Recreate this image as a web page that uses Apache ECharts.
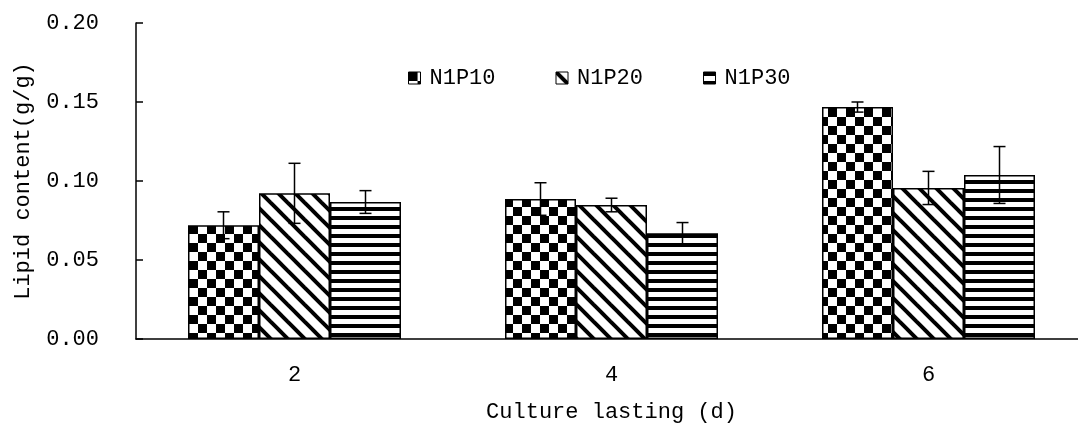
<!DOCTYPE html>
<html>
<head>
<meta charset="utf-8">
<script src="https://cdn.jsdelivr.net/npm/echarts@6/dist/echarts.min.js"></script>
<style>html,body{margin:0;padding:0;background:#fff;}#c{width:1078px;height:426px;}</style>
</head>
<body>
<div id="c"></div>
<script>
const categories = ['2', '4', '6'];
const seriesNames = ['N1P10', 'N1P20', 'N1P30'];
const n1p10 = [0.072, 0.0886, 0.1468];
const n1p20 = [0.0922, 0.0848, 0.0956];
const n1p30 = [0.0867, 0.0670, 0.1038];
const n1p10Err = [0.0085, 0.0103, 0.0032];
const n1p20Err = [0.0190, 0.0043, 0.0105];
const n1p30Err = [0.0072, 0.0067, 0.0180];

function makeChecker() {
  const c = document.createElement('canvas'); c.width = 18; c.height = 18;
  const g = c.getContext('2d');
  g.fillStyle = '#fff'; g.fillRect(0, 0, 18, 18);
  g.fillStyle = '#000'; g.fillRect(0, 0, 9, 9); g.fillRect(9, 9, 9, 9);
  return c;
}
function makeDiag() {
  const s = 17;
  const c = document.createElement('canvas'); c.width = s; c.height = s;
  const g = c.getContext('2d');
  g.fillStyle = '#fff'; g.fillRect(0, 0, s, s);
  g.strokeStyle = '#000'; g.lineWidth = 4;
  for (let k = -1; k <= 1; k++) {
    g.beginPath(); g.moveTo(k * s - 2, -2); g.lineTo(k * s + s + 2, s + 2); g.stroke();
  }
  return c;
}
function makeHoriz() {
  const c = document.createElement('canvas'); c.width = 9; c.height = 9;
  const g = c.getContext('2d');
  g.fillStyle = '#fff'; g.fillRect(0, 0, 9, 9);
  g.fillStyle = '#000'; g.fillRect(0, 0, 9, 4);
  return c;
}
const patterns = [makeChecker(), makeDiag(), makeHoriz()];
const values = [n1p10, n1p20, n1p30];
const errs = [n1p10Err, n1p20Err, n1p30Err];
const BAR_W = 71;
const FONT = 'Liberation Mono';

const series = [];
seriesNames.forEach((name, i) => {
  series.push({
    name: name, type: 'bar', barWidth: BAR_W, barGap: '0%',
    data: values[i],
    itemStyle: { color: { image: patterns[i], repeat: 'repeat' }, borderColor: '#000', borderWidth: 1.5 },
    emphasis: { disabled: true }
  });
});
seriesNames.forEach((name, i) => {
  series.push({
    type: 'custom', name: name + ' err', silent: true, z: 10,
    data: categories.map((c, j) => [j, values[i][j] - errs[i][j], values[i][j] + errs[i][j]]),
    renderItem: function (params, api) {
      const lo = api.coord([api.value(0), api.value(1)]);
      const hi = api.coord([api.value(0), api.value(2)]);
      const x = lo[0] + (i - 1) * BAR_W;
      const cap = 6;
      const st = { stroke: '#000', lineWidth: 1.5 };
      return { type: 'group', children: [
        { type: 'line', shape: { x1: x, y1: lo[1], x2: x, y2: hi[1] }, style: st },
        { type: 'line', shape: { x1: x - cap, y1: hi[1], x2: x + cap, y2: hi[1] }, style: st },
        { type: 'line', shape: { x1: x - cap, y1: lo[1], x2: x + cap, y2: lo[1] }, style: st }
      ]};
    }
  });
});

const chart = echarts.init(document.getElementById('c'));
chart.setOption({
  animation: false,
  backgroundColor: '#fff',
  textStyle: { fontFamily: FONT, color: '#000' },
  grid: { left: 136, top: 23, width: 951, height: 316, containLabel: false, outerBoundsMode: 'none' },
  legend: {
    data: seriesNames, left: 403, top: 62, icon: 'rect', itemWidth: 12, itemHeight: 12,
    itemGap: 60, textStyle: { fontFamily: FONT, fontSize: 22, color: '#000', padding: [0, 0, 0, 4] },
    itemStyle: { borderColor: '#000', borderWidth: 1 }
  },
  xAxis: {
    type: 'category', data: categories,
    name: 'Culture lasting (d)', nameLocation: 'middle', nameGap: 62,
    nameTextStyle: { fontFamily: FONT, fontSize: 22, color: '#000' },
    axisLine: { lineStyle: { color: '#000', width: 1.5 } },
    axisTick: { inside: true, length: 7, lineStyle: { color: '#000', width: 1.5 } },
    axisLabel: { fontFamily: FONT, fontSize: 22, color: '#000', margin: 25 }
  },
  yAxis: {
    type: 'value', min: 0, max: 0.2, interval: 0.05,
    name: 'Lipid content(g/g)', nameLocation: 'middle', nameGap: 102,
    nameTextStyle: { fontFamily: FONT, fontSize: 22, color: '#000' },
    axisLine: { show: true, lineStyle: { color: '#000', width: 1.5 } },
    axisTick: { show: true, inside: true, length: 7, lineStyle: { color: '#000', width: 1.5 } },
    splitLine: { show: false },
    axisLabel: { fontFamily: FONT, fontSize: 22, color: '#000', margin: 37,
      formatter: v => v.toFixed(2) }
  },
  series: series
});
</script>
</body>
</html>
